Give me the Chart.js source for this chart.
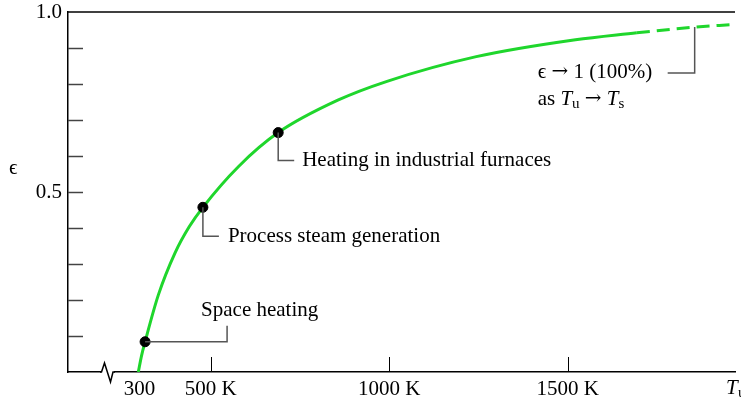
<!DOCTYPE html>
<html>
<head>
<meta charset="utf-8">
<script src="https://cdn.jsdelivr.net/npm/chart.js@4.4.1/dist/chart.umd.min.js"></script>
<style>
  html, body { margin: 0; padding: 0; background: #fff; }
  #wrap { width: 741px; height: 404px; position: relative; }
</style>
</head>
<body>
<div id="wrap"><canvas id="eff-chart"></canvas></div>
<script>
// curve (T in K, efficiency)
const tempSolid = [297, 306, 316, 353, 400, 440, 478, 578, 689, 856, 994, 1244, 1522, 1694];
const effSolid  = [0, 0.045, 0.084, 0.2135, 0.331, 0.404, 0.4575, 0.571, 0.665, 0.755, 0.8075, 0.876, 0.923, 0.9425];
const tempDashed = [1694, 1856, 1961];
const effDashed  = [0.9425, 0.958, 0.965];

// marked applications
const pointT   = [316, 478, 689];
const pointEff = [0.084, 0.4575, 0.665];
const pointLabels = ["Space heating", "Process steam generation", "Heating in industrial furnaces"];

// limit note anchor
const limitT = 1856;
const limitEff = 0.958;

const xTicks = [300, 500, 1000, 1500];
const xTickMarks = [500, 1000, 1500];
const yTicks = [0, 0.1, 0.2, 0.3, 0.4, 0.5, 0.6, 0.7, 0.8, 0.9, 1.0];
const yLabelled = { "0.5": "0.5", "1": "1.0" };

const green = "#1fd62c";
const serif = "'Liberation Serif', 'DejaVu Serif', serif";
const arrowFont = "20px 'DejaVu Serif', serif";
const toXY = (xs, ys) => xs.map((x, i) => ({ x: x, y: ys[i] }));

const decor = {
  id: "decor",
  afterDraw(chart) {
    const c = chart.ctx, a = chart.chartArea;
    const xs = chart.scales.x, ys = chart.scales.y;
    c.save();
    // top border
    c.strokeStyle = "#000"; c.lineWidth = 1.5;
    c.beginPath(); c.moveTo(a.left, a.top); c.lineTo(a.right, a.top); c.stroke();
    // inward y ticks
    c.strokeStyle = "#444"; c.lineWidth = 1.5;
    yTicks.slice(1, -1).forEach(v => {
      const y = Math.round(ys.getPixelForValue(v)) + 0.5;
      c.beginPath(); c.moveTo(a.left, y); c.lineTo(a.left + 15, y); c.stroke();
    });
    // inward x ticks
    c.strokeStyle = "#000"; c.lineWidth = 1;
    xTickMarks.forEach(v => {
      const x = Math.round(xs.getPixelForValue(v)) + 0.5;
      c.beginPath(); c.moveTo(x, a.bottom); c.lineTo(x, a.bottom - 15); c.stroke();
    });
    // axis break
    c.fillStyle = "#fff";
    c.fillRect(101, a.bottom - 3, 13, 6);
    c.strokeStyle = "#000"; c.lineWidth = 1.5;
    c.beginPath();
    c.moveTo(100, a.bottom); c.lineTo(101.5, a.bottom); c.lineTo(104.5, a.bottom - 9);
    c.lineTo(110.5, a.bottom + 10); c.lineTo(113, a.bottom); c.lineTo(115, a.bottom);
    c.stroke();

    // leaders + texts
    c.strokeStyle = "#555"; c.lineWidth = 1.5;
    c.fillStyle = "#000";
    c.font = "21px " + serif;
    c.textBaseline = "middle"; c.textAlign = "left";
    const px = pointT.map(v => xs.getPixelForValue(v));
    const py = pointEff.map(v => ys.getPixelForValue(v));

    c.beginPath();
    c.moveTo(px[0], py[0]); c.lineTo(px[0] + 82, py[0]); c.lineTo(px[0] + 82, py[0] - 16);
    c.stroke();
    c.fillText(pointLabels[0], px[0] + 56, py[0] - 31);

    c.beginPath();
    c.moveTo(px[1], py[1]); c.lineTo(px[1], py[1] + 29); c.lineTo(px[1] + 16, py[1] + 29);
    c.stroke();
    c.fillText(pointLabels[1], px[1] + 25, py[1] + 29);

    c.beginPath();
    c.moveTo(px[2], py[2]); c.lineTo(px[2], py[2] + 28); c.lineTo(px[2] + 16, py[2] + 28);
    c.stroke();
    c.fillText(pointLabels[2], px[2] + 24, py[2] + 28);

    const lx = xs.getPixelForValue(limitT), ly = ys.getPixelForValue(limitEff);
    c.beginPath();
    c.moveTo(lx, ly); c.lineTo(lx, ly + 46); c.lineTo(lx - 27, ly + 46);
    c.stroke();

    let tx, ty;
    const part = (s, font, dy) => { c.font = font; c.fillText(s, tx, ty + dy); tx += c.measureText(s).width; };
    // first line
    tx = lx - 157; ty = ly + 45;
    part("\u03f5 ", "21px " + serif, 0);
    part("\u2192", arrowFont, 0);
    part(" 1 (100%)", "21px " + serif, 0);
    // second line with subscripts
    tx = lx - 157; ty = ly + 72;
    part("as ", "21px " + serif, 0);
    part("T", "italic 21px " + serif, 0);
    part("u", "15px " + serif, 5);
    part(" ", "21px " + serif, 0);
    part("\u2192", arrowFont, 0);
    part(" ", "21px " + serif, 0);
    part("T", "italic 21px " + serif, 0);
    part("s", "15px " + serif, 5);

    // axis titles
    c.font = "21px " + serif;
    c.fillText("\u03f5", 9, 168);
    c.font = "italic 21px " + serif;
    c.fillText("T", 726, 388);
    c.font = "15px " + serif;
    c.fillText("u", 738, 393);
    c.restore();
  }
};

new Chart(document.getElementById("eff-chart"), {
  type: "line",
  data: {
    datasets: [
      {
        data: toXY(tempSolid, effSolid),
        borderColor: green, borderWidth: 3, pointRadius: 0,
        cubicInterpolationMode: "monotone", fill: false, order: 2
      },
      {
        data: toXY(tempDashed, effDashed),
        borderColor: green, borderWidth: 3, pointRadius: 0,
        borderDash: [13, 7], cubicInterpolationMode: "monotone", fill: false, order: 2
      },
      {
        data: toXY(pointT, pointEff),
        showLine: false, pointRadius: 5, order: 0,
        pointBackgroundColor: "#000", pointBorderColor: "#000"
      }
    ]
  },
  options: {
    responsive: true,
    maintainAspectRatio: false,
    animation: false,
    layout: { padding: { top: 12, right: 0, left: 0, bottom: 0 } },
    plugins: { legend: { display: false }, tooltip: { enabled: false } },
    scales: {
      x: {
        type: "linear", min: 100, max: 1969,
        afterBuildTicks: s => { s.ticks = xTicks.map(v => ({ value: v })); },
        afterFit: s => { s.height = 32; s.paddingLeft = 0; s.paddingRight = 0; },
        ticks: {
          autoSkip: false, maxRotation: 0, padding: 5, color: "#000",
          font: { family: serif, size: 21 },
          callback: v => (v === 300 ? "300" : v + " K")
        },
        grid: { drawOnChartArea: false, drawTicks: false },
        border: { display: true, color: "#000", width: 1.5 }
      },
      y: {
        type: "linear", min: 0, max: 1,
        afterBuildTicks: s => { s.ticks = yTicks.map(v => ({ value: v })); },
        afterFit: s => { s.width = 68; s.paddingTop = 0; s.paddingBottom = 0; },
        ticks: {
          autoSkip: false, padding: 6, color: "#000",
          font: { family: serif, size: 21 },
          callback: v => yLabelled[String(Math.round(v * 10) / 10)] || ""
        },
        grid: { drawOnChartArea: false, drawTicks: false },
        border: { display: true, color: "#000", width: 1.5 }
      }
    }
  },
  plugins: [decor]
});
</script>
</body>
</html>
